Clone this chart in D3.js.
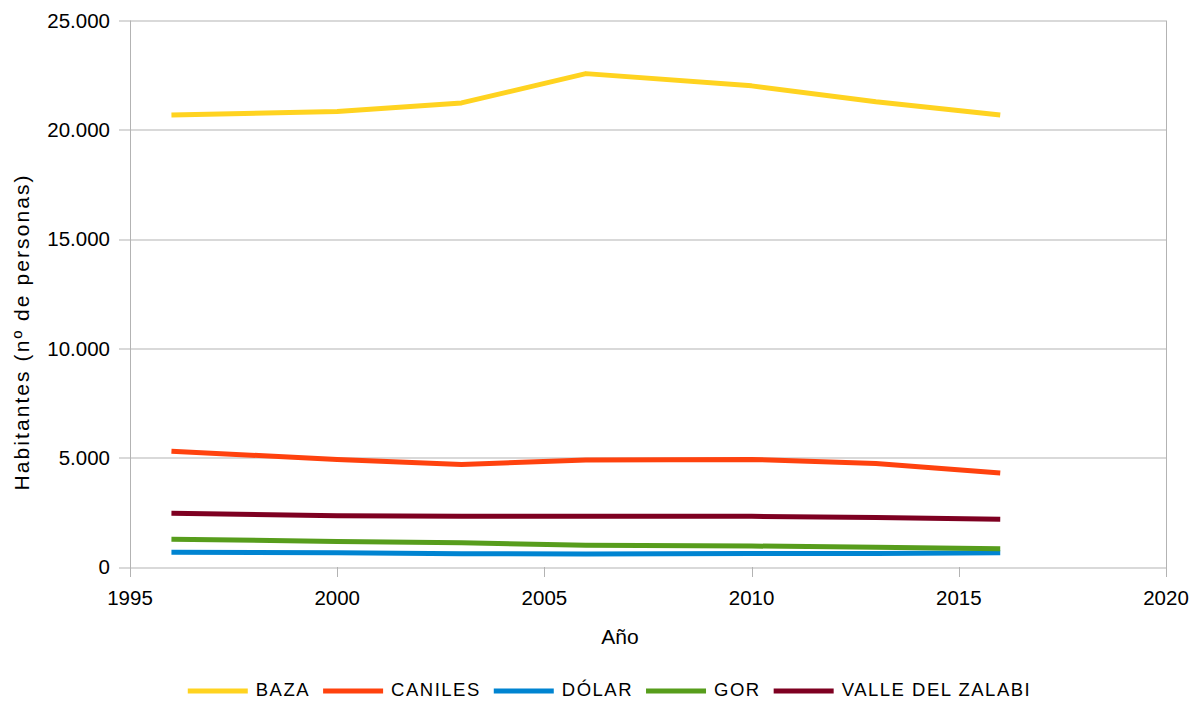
<!DOCTYPE html>
<html>
<head>
<meta charset="utf-8">
<script src="https://cdn.jsdelivr.net/npm/d3@7"></script>
<style>
    body { margin: 0; background: #fff; }
    text { font-family: "Liberation Sans", Arial, sans-serif; fill: #000; }
</style>
</head>
<body>
<div class="visual"></div>
<script>
const years = [1996, 2000, 2003, 2006, 2010, 2013, 2016];

const seriesNames = ["BAZA", "CANILES", "DÓLAR", "GOR", "VALLE DEL ZALABI"];
const seriesColors = ["#ffd320", "#ff420e", "#0084d1", "#579d1c", "#7e0021"];

const baza = [20680, 20840, 21230, 22570, 22010, 21280, 20680];
const caniles = [5300, 4920, 4690, 4890, 4920, 4740, 4300];
const dolar = [670, 650, 610, 590, 620, 620, 650];
const gor = [1270, 1170, 1110, 1000, 960, 900, 840];
const valle = [2460, 2350, 2320, 2320, 2320, 2270, 2180];

const xTicks = [1995, 2000, 2005, 2010, 2015, 2020];
const yTicks = [0, 5000, 10000, 15000, 20000, 25000];

const xTitle = "Año";
const yTitle = "Habitantes (nº de personas)";

const allSeries = [baza, caniles, dolar, gor, valle];

function display() {
    const W = 1192, H = 701;
    const margin = { top: 20.5, right: 26, bottom: 134, left: 130 };
    const w = W - margin.left - margin.right;
    const h = H - margin.top - margin.bottom;
    const gridColor = "#b3b3b3";

    const svg = d3.select(".visual")
        .append("svg")
        .attr("width", W)
        .attr("height", H);

    const g = svg.append("g")
        .attr("transform", `translate(${margin.left}, ${margin.top})`);

    const x = d3.scaleLinear().domain([1995, 2020]).range([0, w]);
    const y = d3.scaleLinear().domain([0, 25000]).range([h, 0]);

    // horizontal grid + left ticks
    g.selectAll(".grid")
        .data(yTicks)
        .enter()
        .append("line")
        .attr("x1", -11)
        .attr("x2", w)
        .attr("y1", d => Math.round(y(d)) + 0.5)
        .attr("y2", d => Math.round(y(d)) + 0.5)
        .attr("stroke", gridColor)
        .attr("stroke-width", 1);

    // x tick marks below axis
    g.selectAll(".xtick")
        .data(xTicks)
        .enter()
        .append("line")
        .attr("x1", d => Math.round(x(d)) + 0.5)
        .attr("x2", d => Math.round(x(d)) + 0.5)
        .attr("y1", h)
        .attr("y2", h + 10)
        .attr("stroke", gridColor);

    // left and right frame
    [1995, 2020].forEach(v => {
        g.append("line")
            .attr("x1", Math.round(x(v)) + 0.5)
            .attr("x2", Math.round(x(v)) + 0.5)
            .attr("y1", 0)
            .attr("y2", h)
            .attr("stroke", gridColor);
    });

    const fmt = d3.formatLocale({ decimal: ",", thousands: ".", grouping: [3], currency: ["", ""] }).format(",");

    g.selectAll(".ylab")
        .data(yTicks)
        .enter()
        .append("text")
        .attr("x", -20)
        .attr("y", d => y(d))
        .attr("dy", "0.35em")
        .attr("text-anchor", "end")
        .style("font-size", "20.5px")
        .text(d => fmt(d));

    g.selectAll(".xlab")
        .data(xTicks)
        .enter()
        .append("text")
        .attr("x", d => x(d))
        .attr("y", h + 31)
        .attr("dy", "0.35em")
        .attr("text-anchor", "middle")
        .style("font-size", "20.5px")
        .text(d => d);

    // axis titles
    svg.append("text")
        .attr("x", margin.left + w / 2 - 28)
        .attr("y", 637)
        .attr("dy", "0.35em")
        .attr("text-anchor", "middle")
        .style("font-size", "21px")
        .text(xTitle);

    svg.append("text")
        .attr("transform", `translate(22, 333) rotate(-90)`)
        .attr("text-anchor", "middle")
        .attr("dy", "0.35em")
        .attr("textLength", 315)
        .attr("lengthAdjust", "spacing")
        .style("font-size", "21px")
        .text(yTitle);

    // lines
    const line = d3.line()
        .x((d, i) => x(years[i]))
        .y(d => y(d));

    g.selectAll(".series")
        .data(allSeries)
        .enter()
        .append("path")
        .attr("d", d => line(d))
        .attr("fill", "none")
        .attr("stroke", (d, i) => seriesColors[i])
        .attr("stroke-width", 5)
        .attr("stroke-linejoin", "round")
        .attr("stroke-linecap", "butt");

    // legend
    const legend = svg.append("g");
    let cursor = 0;
    seriesNames.forEach((name, i) => {
        const item = legend.append("g").attr("transform", `translate(${cursor}, 0)`);
        item.append("line")
            .attr("x1", 0)
            .attr("x2", 60)
            .attr("y1", 1)
            .attr("y2", 1)
            .attr("stroke", seriesColors[i])
            .attr("stroke-width", 5);
        const t = item.append("text")
            .attr("x", 68)
            .attr("y", 0)
            .attr("dy", "0.35em")
            .style("font-size", "18.5px")
            .style("letter-spacing", "1.5px")
            .text(name);
        cursor += 68 + t.node().getComputedTextLength() + 13;
    });
    const legendW = cursor - 13;
    legend.attr("transform", `translate(${609.5 - legendW / 2}, 690)`);
}

window.onload = function() {
    display();
};
</script>
</body>
</html>
